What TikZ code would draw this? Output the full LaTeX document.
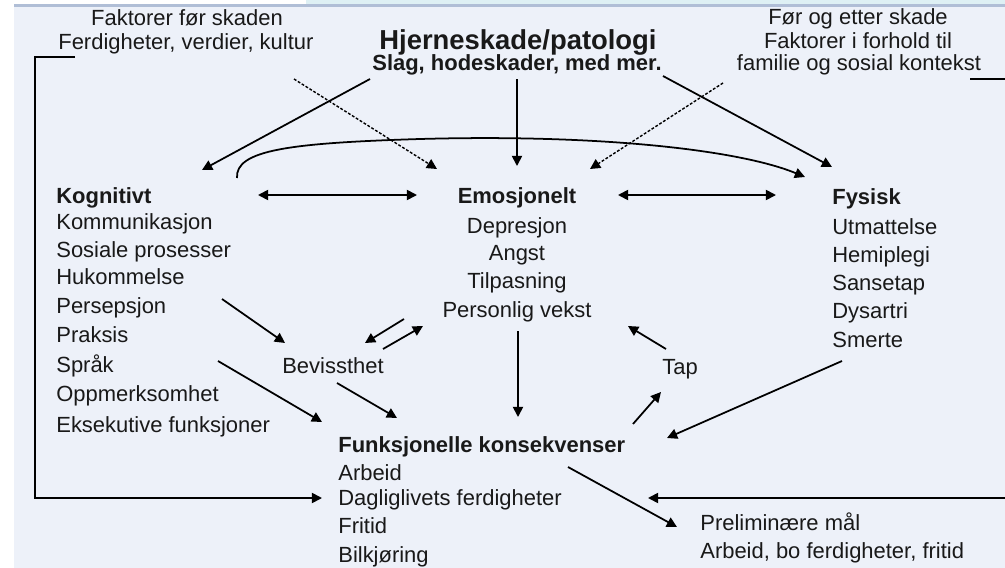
\documentclass[tikz,border=0pt]{standalone}
\usepackage{fontspec}
\setmainfont{Liberation Sans}
\usetikzlibrary{arrows.meta}

\definecolor{panelbg}{RGB}{237,241,249}
\definecolor{panelrim}{RGB}{176,190,214}
\definecolor{stripcyan}{RGB}{222,240,244}
\definecolor{ink}{RGB}{25,25,25}

\begin{document}
\begin{tikzpicture}[x=0.02cm, y=-0.02cm, >={Triangle[length=5.8pt,width=5.8pt]},
    txt/.style={inner sep=0pt, text=ink, font=\fontsize{12.5}{14}\selectfont},
    hd/.style={inner sep=0pt, text=ink, font=\fontsize{12.5}{14}\selectfont\bfseries},
    link/.style={line width=1pt, ->},
    hint/.style={line width=0.8pt, ->, dash pattern=on 1.6pt off 1pt}]
    % --- 1. Slide background ---
    \fill[white] (0,0) rectangle (1005,568);
    \fill[stripcyan] (306,0) rectangle (1005,5);
    \fill[panelbg] (14,5) rectangle (1005,568);
    \fill[panelrim] (14,4) rectangle (1005,6.5);
    \useasboundingbox (0,0) rectangle (1005,568);

    % --- 2. Top texts ---
    \node[txt, anchor=base] (pre1) at (187,26) {Faktorer før skaden};
    \node[txt, anchor=base west] (pre2) at (58,50) {Ferdigheter, verdier, kultur};
    \node[hd, font=\fontsize{15.6}{18}\selectfont\bfseries, anchor=base] (skade) at (518,50) {Hjerneskade/patologi};
    \node[hd, anchor=base] (slag) at (517,71) {Slag, hodeskader, med mer.};
    \node[txt, anchor=base] (ctx1) at (858,25) {Før og etter skade};
    \node[txt, anchor=base] (ctx2) at (858,49) {Faktorer i forhold til};
    \node[txt, anchor=base] (ctx3) at (859,71) {familie og sosial kontekst};

    % --- 3. Three domains ---
    \node[hd, anchor=base west] (kog) at (56,203) {Kognitivt};
    \foreach \y/\t [count=\i] in {229/Kommunikasjon, 257/Sosiale prosesser, 284/Hukommelse,
        313/Persepsjon, 342/Praksis, 372/Språk, 401/Oppmerksomhet, 432/Eksekutive funksjoner}
        \node[txt, anchor=base west] (kog\i) at (56,\y) {\t};

    \node[hd, anchor=base] (emo) at (517,203) {Emosjonelt};
    \foreach \y/\t [count=\i] in {233/Depresjon, 260/Angst, 288/Tilpasning, 317/Personlig vekst}
        \node[txt, anchor=base] (emo\i) at (517,\y) {\t};

    \node[hd, anchor=base west] (fys) at (832,204) {Fysisk};
    \foreach \y/\t [count=\i] in {234/Utmattelse, 262/Hemiplegi, 290/Sansetap, 318/Dysartri, 347/Smerte}
        \node[txt, anchor=base west] (fys\i) at (832,\y) {\t};

    \node[txt, anchor=base] (bev) at (333,373) {Bevissthet};
    \node[txt, anchor=base] (tap) at (680,374) {Tap};

    % --- 4. Consequences and goals ---
    \node[hd, anchor=base west] (funk) at (338,452) {Funksjonelle konsekvenser};
    \foreach \y/\t [count=\i] in {480/Arbeid, 505/Dagliglivets ferdigheter, 533/Fritid, 562/Bilkjøring}
        \node[txt, anchor=base west] (funk\i) at (338,\y) {\t};
    \node[txt, anchor=base west] (maal) at (700,530) {Preliminære mål};
    \node[txt, anchor=base west] (maal1) at (700,558) {Arbeid, bo ferdigheter, fritid};

    % --- 5. Arrow ends ---
    \coordinate (sK) at (370,79);   \coordinate (sKend) at (202,170);
    \coordinate (sE) at (517,79);   \coordinate (sEend) at (517,166);
    \coordinate (sF) at (663,76);   \coordinate (sFend) at (832,167);
    \coordinate (pre) at (294,79);  \coordinate (preEnd) at (437,169);
    \coordinate (ctx) at (723,83);  \coordinate (ctxEnd) at (590,169);
    \coordinate (kogArc) at (237,178); \coordinate (fysArc) at (805,177);
    \coordinate (kogR) at (258,195); \coordinate (emoL) at (417,195);
    \coordinate (emoR) at (618,195); \coordinate (fysL) at (776,195);
    \coordinate (persOut) at (222,299); \coordinate (bevIn) at (285,343);
    \coordinate (sprOut) at (218,361);  \coordinate (funkInL) at (322,422);
    \coordinate (bevOut) at (337,383);  \coordinate (funkIn) at (397,418);
    \coordinate (vekstA) at (404,319);  \coordinate (bevA) at (365,343);
    \coordinate (bevB) at (383,349);    \coordinate (vekstB) at (423,326);
    \coordinate (emoOut) at (518,331);  \coordinate (funkTop) at (518,417);
    \coordinate (tapOut) at (666,349);  \coordinate (vekstR) at (628,326);
    \coordinate (funkOut) at (633,424); \coordinate (tapIn) at (661,392);
    \coordinate (smOut) at (842,361);   \coordinate (funkInR) at (667,438);
    \coordinate (funkLow) at (568,467); \coordinate (maalIn) at (677,527);
    \coordinate (brL) at (75,57);       \coordinate (daglIn) at (322,498);
    \coordinate (brR) at (970,79);      \coordinate (daglInR) at (648,498);

    % --- 6. Connectors ---
    \draw[link] (sK) -- (sKend);
    \draw[link] (sE) -- (sEend);
    \draw[link] (sF) -- (sFend);
    \draw[hint] (pre) -- (preEnd);
    \draw[hint] (ctx) -- (ctxEnd);
    \draw[link] (kogArc) .. controls (235,150) and (290,143) .. (420,139)
                         .. controls (600,134) and (740,150) .. (fysArc);
    \draw[link, <->] (kogR) -- (emoL);
    \draw[link, <->] (emoR) -- (fysL);
    \draw[link] (persOut) -- (bevIn);
    \draw[link] (sprOut) -- (funkInL);
    \draw[link] (bevOut) -- (funkIn);
    \draw[link] (vekstA) -- (bevA);
    \draw[link] (bevB) -- (vekstB);
    \draw[link] (emoOut) -- (funkTop);
    \draw[link] (tapOut) -- (vekstR);
    \draw[link] (funkOut) -- (tapIn);
    \draw[link] (smOut) -- (funkInR);
    \draw[link] (funkLow) -- (maalIn);
    % brackets round the sides
    \draw[link] (brL) -- ++(-40,0) |- (daglIn);
    \draw[link] (brR) -- ++(50,0) |- (daglInR);
\end{tikzpicture}
\end{document}
